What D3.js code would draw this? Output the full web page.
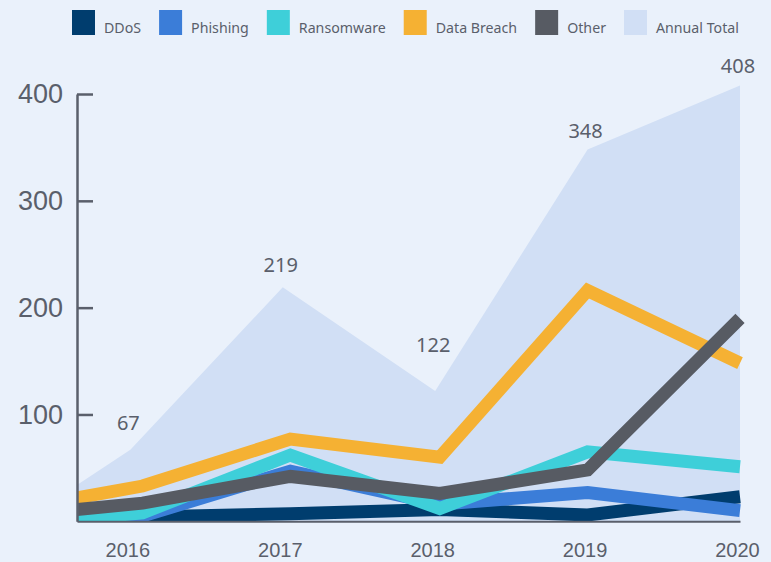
<!DOCTYPE html>
<html>
<head>
<meta charset="utf-8">
<script src="https://cdn.jsdelivr.net/npm/d3@7"></script>
<style>
  html, body { margin: 0; padding: 0; background: #eaf1fb; }
  svg { display: block; font-family: "Noto Sans", sans-serif; }
  .axis text { fill: #5a5f6b; }
  .axis path, .axis line { stroke: #5a5f6b; }
</style>
</head>
<body>
<div id="chart"></div>
<script>
/* values */
var years = [2016, 2017, 2018, 2019, 2020];
var areaX = [2015.65, 2016, 2017, 2018, 2019, 2020];
var annualTotal = [34, 67, 219, 122, 348, 408];
var lineX = [2015.65, 2016.08, 2017.05, 2018.03, 2019, 2020];
var ddos = [1, 4, 7, 11, 6, 23];
var phishing = [1, 5, 47, 16, 27, 10];
var ransomware = [2, 8, 62, 12, 65, 51];
var dataBreach = [22, 33, 77, 60, 216, 148];
var other = [11, 17, 42, 26, 48, 190];
var yTicks = [100, 200, 300, 400];

var seriesNames = ["DDoS", "Phishing", "Ransomware", "Data Breach", "Other"];
var seriesValues = [ddos, phishing, ransomware, dataBreach, other];
var colors = ["#003d6e", "#3b7dd8", "#3ecfd9", "#f5b133", "#575b63"];
var areaColor = "#d1dff5";

// how far each total label sits above its point (px)
var labelLift = [20, 15, 39, 12, 12];

var width = 771, height = 562;
var plotLeft = 77, plotRight = 740, plotTop = 94, plotBottom = 521.3;

var svg = d3.select("#chart")
            .append("svg")
            .attr("width", width)
            .attr("height", height);

var x = d3.scaleLinear().domain([areaX[0], 2020]).range([plotLeft, plotRight]);
var y = d3.scaleLinear().domain([0, 400]).range([plotBottom, plotTop]);

svg.append("clipPath")
   .attr("id", "plotClip")
   .append("rect")
   .attr("x", plotLeft)
   .attr("y", 0)
   .attr("width", width - plotLeft)
   .attr("height", plotBottom);

/* annual total area */
var area = d3.area()
             .x(function(d, i){ return x(areaX[i]); })
             .y0(y(0))
             .y1(function(d){ return y(d); });

svg.append("path")
   .datum(annualTotal)
   .attr("d", area)
   .style("fill", areaColor);

/* lines */
var line = d3.line()
             .x(function(d, i){ return x(lineX[i]); })
             .y(function(d){ return y(d); });

svg.append("g")
   .attr("clip-path", "url(#plotClip)")
   .selectAll(".series")
   .data(seriesValues)
   .enter()
   .append("path")
   .attr("class", "series")
   .attr("d", line)
   .style("fill", "none")
   .style("stroke", function(d, i){ return colors[i]; })
   .style("stroke-width", 13)
   .style("stroke-linejoin", "miter")
   .style("stroke-linecap", "butt");

/* total labels */
svg.selectAll(".total-label")
   .data(annualTotal.slice(1))
   .enter()
   .append("text")
   .attr("class", "total-label")
   .attr("x", function(d, i){ return x(years[i]) - 2; })
   .attr("y", function(d, i){ return y(d) - labelLift[i]; })
   .attr("text-anchor", "middle")
   .style("font-size", "20px")
   .style("fill", "#5a5f6b")
   .text(function(d){ return d; });

/* axes */
var yAxis = d3.axisLeft(y)
              .tickValues(yTicks)
              .tickSizeInner(-16)
              .tickSizeOuter(0)
              .tickPadding(14);

svg.append("g")
   .attr("class", "axis")
   .attr("transform", "translate(" + plotLeft + ",0)")
   .call(yAxis)
   .call(function(g){
     g.select(".domain").style("stroke-width", 2.5);
     g.selectAll(".tick line").style("stroke-width", 2.5);
     g.selectAll(".tick text").style("font-size", "27px");
   });

var xAxis = d3.axisBottom(x)
              .tickValues(years)
              .tickFormat(d3.format("d"))
              .tickSize(0)
              .tickPadding(22);

svg.append("g")
   .attr("class", "axis")
   .attr("transform", "translate(0," + plotBottom + ")")
   .call(xAxis)
   .call(function(g){
     g.select(".domain").style("stroke-width", 2);
     g.selectAll(".tick text").style("font-size", "20px").attr("dx", "-3");
   });

/* legend */
var legendNames = seriesNames.concat(["Annual Total"]);
var legendColors = colors.concat([areaColor]);
var legend = svg.append("g").attr("class", "legend");
var lx = 72;
legendNames.forEach(function(name, i){
  legend.append("rect")
        .attr("x", lx)
        .attr("y", 10)
        .attr("width", 23)
        .attr("height", 25)
        .style("fill", legendColors[i]);
  var t = legend.append("text")
        .attr("x", lx + 32)
        .attr("y", 33)
        .style("font-size", "14.2px")
        .style("fill", "#5a5f6b")
        .text(name);
  lx = lx + 32 + t.node().getComputedTextLength() + 18;
});
</script>
</body>
</html>
